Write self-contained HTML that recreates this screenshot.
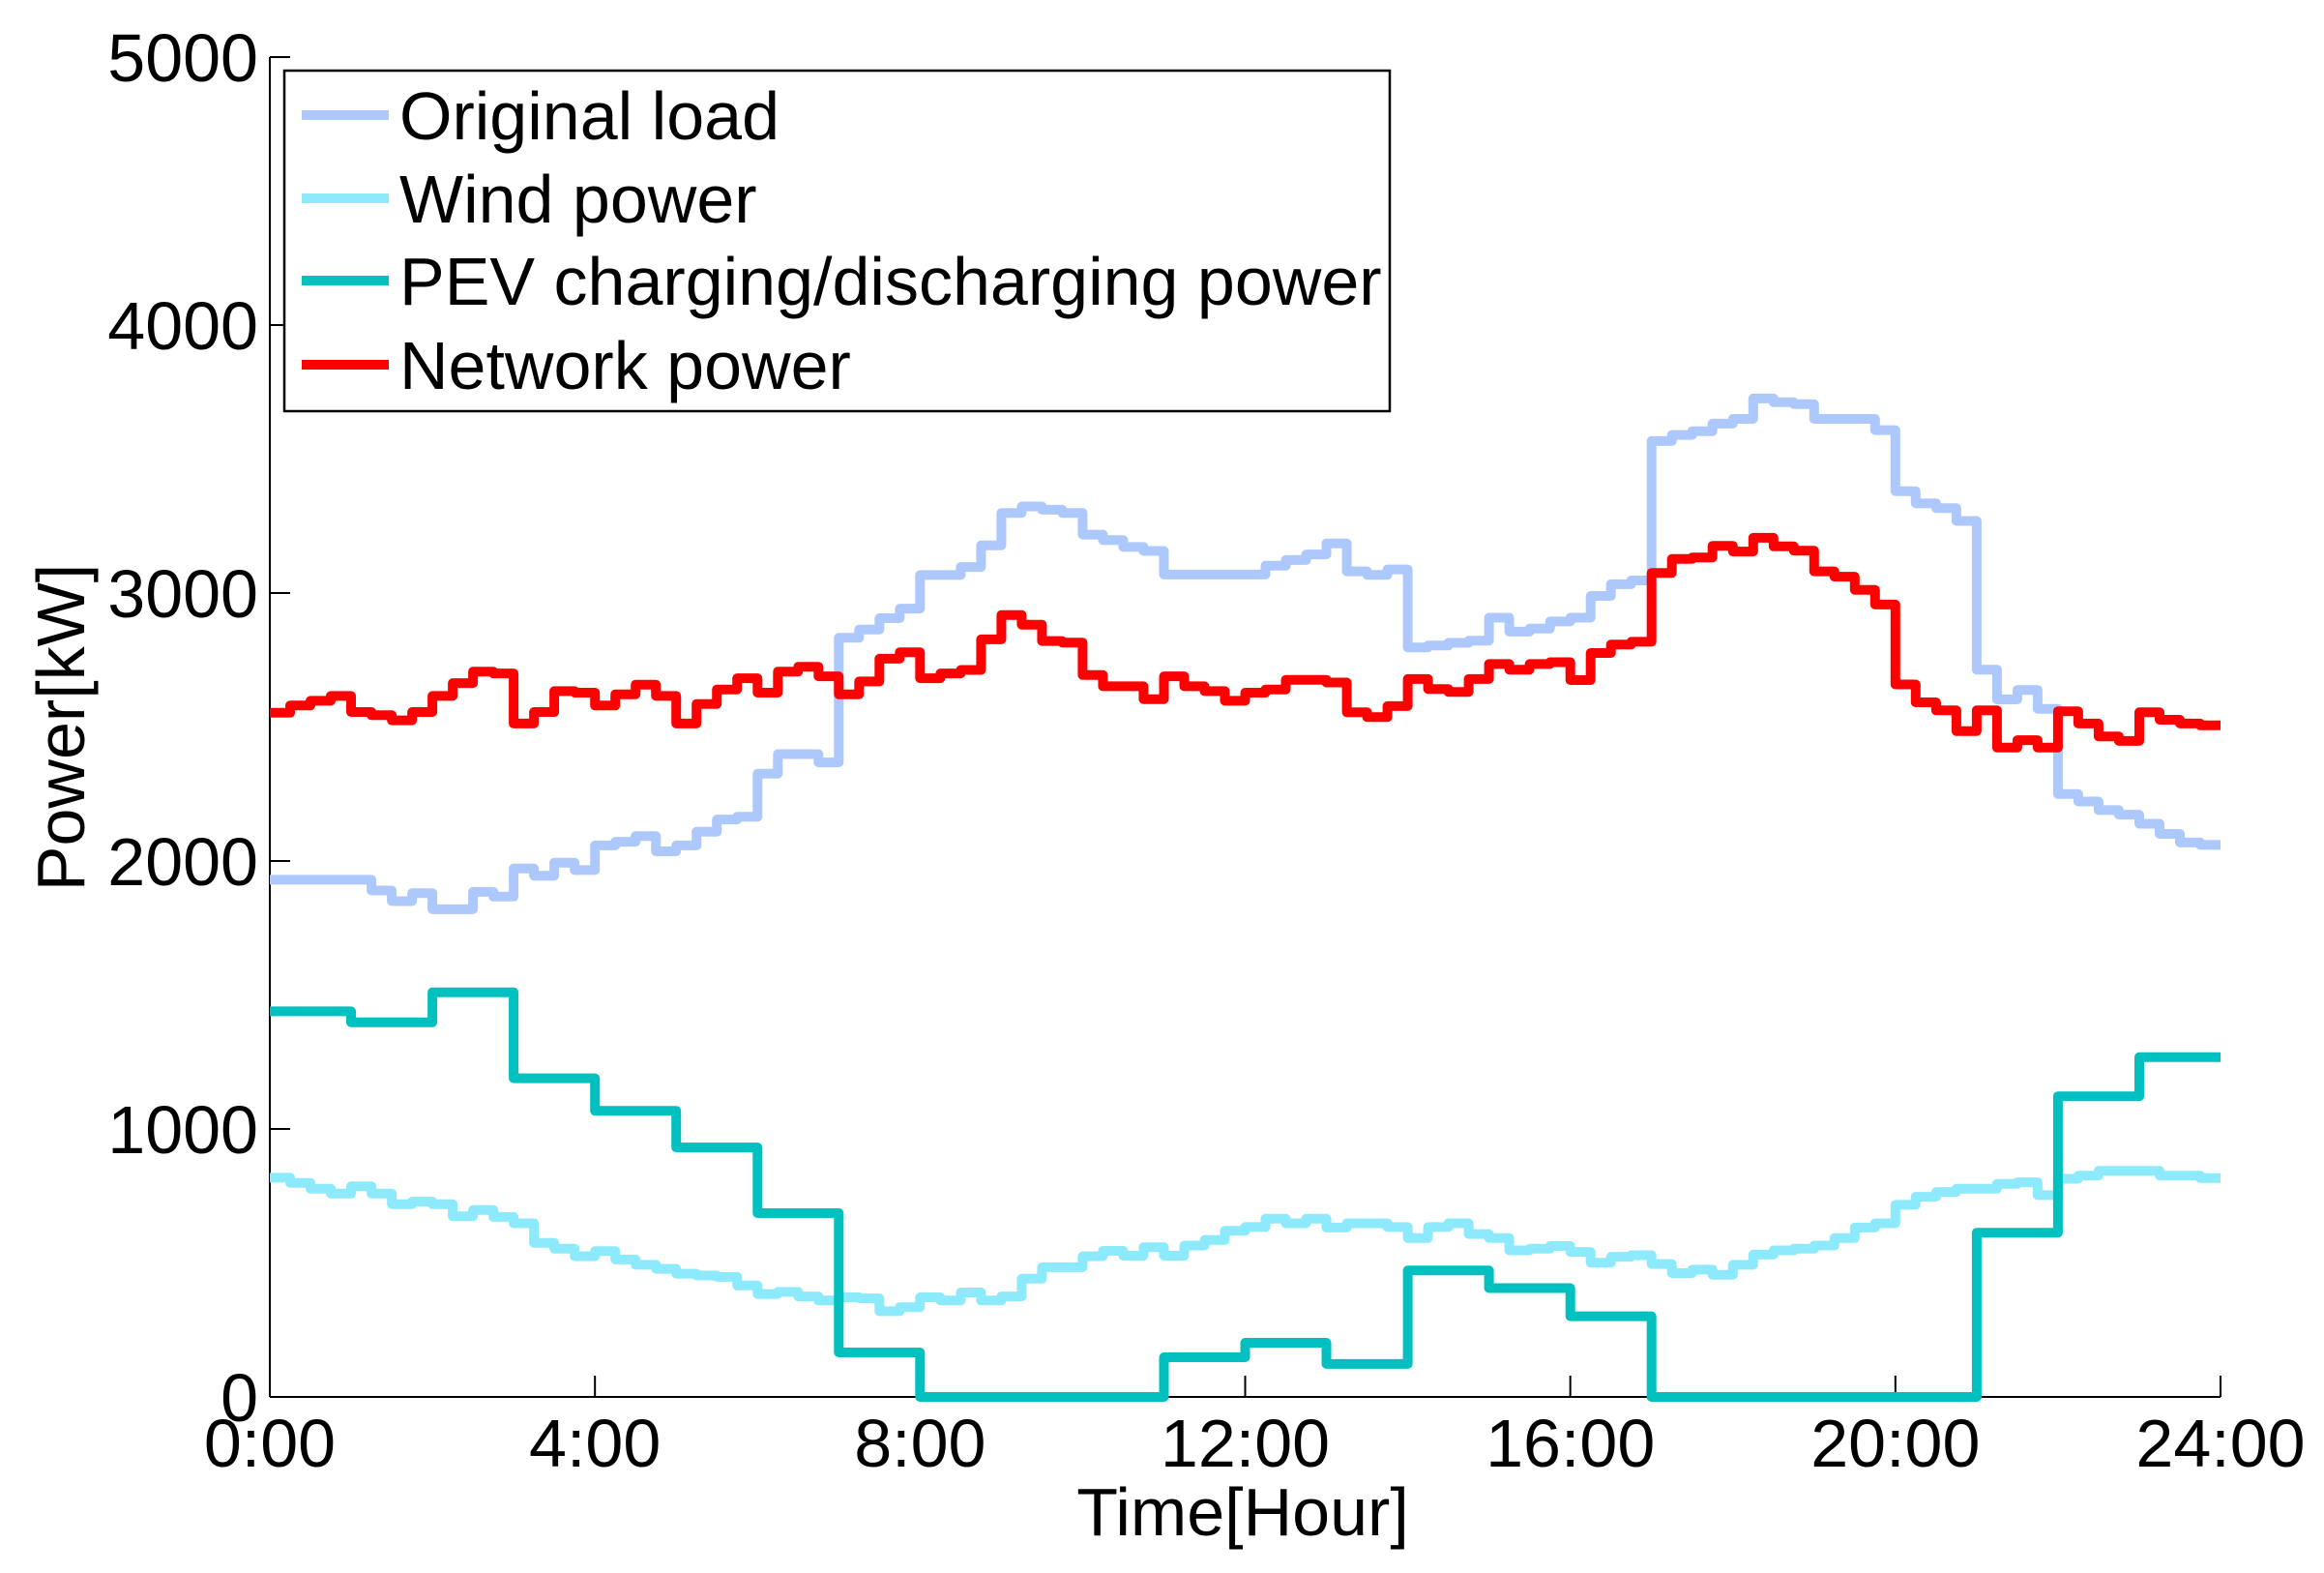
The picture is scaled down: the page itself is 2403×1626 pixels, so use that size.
<!DOCTYPE html>
<html><head><meta charset="utf-8"><style>
html,body{margin:0;padding:0;background:#fff;}
svg{display:block;font-family:"Liberation Sans",Arial,sans-serif;}
</style></head><body>
<svg id="chart" width="2403" height="1626" viewBox="0 0 2403 1626" xmlns="http://www.w3.org/2000/svg">
<g id="axes"></g>
<g id="series"></g>
<g id="legend"></g>
</svg>
<script>
const loadValues=[1930,1930,1930,1930,1930,1890,1850,1880,1820,1820,1885,1867,1972,1945,1994,1966,2058,2072,2093,2036,2058,2109,2155,2165,2326,2399,2399,2368,2833,2864,2906,2942,3067,3067,3097,3178,3299,3323,3311,3299,3218,3198,3172,3157,3069,3069,3069,3069,3069,3102,3123,3144,3185,3081,3068,3088,2797,2804,2814,2822,2908,2856,2867,2894,2908,2989,3033,3047,3567,3590,3604,3632,3650,3726,3712,3705,3650,3650,3650,3608,3380,3335,3317,3269,2714,2603,2638,2568,2250,2222,2190,2173,2139,2101,2069,2060];
const networkValues=[2553,2580,2598,2616,2556,2544,2525,2556,2616,2664,2707,2700,2513,2556,2634,2628,2580,2622,2658,2616,2513,2586,2640,2682,2628,2707,2725,2689,2622,2670,2755,2779,2682,2700,2713,2827,2918,2882,2821,2815,2694,2652,2652,2604,2689,2652,2634,2598,2628,2640,2676,2676,2666,2555,2537,2578,2679,2642,2631,2679,2735,2714,2735,2742,2675,2776,2808,2818,3075,3127,3133,3176,3155,3206,3174,3158,3081,3061,3012,2957,2659,2592,2562,2485,2562,2423,2451,2423,2559,2513,2465,2448,2555,2527,2513,2506];
const windValues=[818,799,777,759,786,759,719,729,719,674,698,672,648,575,553,525,544,513,493,478,460,453,448,416,384,392,375,360,372,368,320,335,372,360,390,360,375,441,484,484,525,545,527,559,527,565,586,620,634,665,648,665,632,648,648,634,593,634,648,608,593,547,553,563,541,501,523,529,496,462,475,456,493,531,547,553,565,593,632,648,717,747,765,777,777,795,801,753,814,826,844,844,844,826,826,817];
const pevValues=[1439,1398,1510,1189,1068,931,686,166,0,0,0,148,202,123,472,406,301,0,0,0,0,613,1122,1268];
const yTicks=[0,1000,2000,3000,4000,5000];
const xTicks=[0,4,8,12,16,20,24];
const xTickLabels=["0:00","4:00","8:00","12:00","16:00","20:00","24:00"];
const legendLabels=["Original load","Wind power","PEV charging/discharging power","Network power"];

const NS="http://www.w3.org/2000/svg";
const X0=279,X1=2296,Y0=1444,Y1=59;
function xs(h){return X0+(X1-X0)*h/24;}
function ys(v){return Y0-(Y0-Y1)*v/5000;}
function mk(tag,attrs,parent){const e=document.createElementNS(NS,tag);for(const k in attrs)e.setAttribute(k,attrs[k]);parent.appendChild(e);return e;}

const axes=document.getElementById('axes');
let a=mk('line',{x1:X0,y1:Y1,x2:X0,y2:Y0,stroke:'#000','stroke-width':2},axes);


a=mk('line',{x1:X0,y1:Y0,x2:X1,y2:Y0,stroke:'#000','stroke-width':2},axes);


yTicks.forEach(v=>{
  const t=mk('line',{x1:X0,y1:ys(v),x2:X0+21,y2:ys(v),stroke:'#000','stroke-width':2},axes);
  
  
  const l=mk('text',{x:267,y:ys(v)+25,'font-size':70,'text-anchor':'end',fill:'#000'},axes);
  l.textContent=String(v);
  
  
});
xTicks.forEach((h,i)=>{
  const t=mk('line',{x1:xs(h),y1:Y0,x2:xs(h),y2:Y0-22,stroke:'#000','stroke-width':2},axes);
  
  
  const l=mk('text',{x:xs(h),y:1516,'font-size':70,'text-anchor':'middle',fill:'#000'},axes);
  l.textContent=xTickLabels[i];
  
  
});
let tt=mk('text',{x:1285,y:1587,'font-size':70,'text-anchor':'middle',fill:'#000'},axes);
tt.textContent="Time[Hour]";


tt=mk('text',{x:0,y:0,'font-size':70,'text-anchor':'middle',fill:'#000',transform:'translate(87,752) rotate(-90)'},axes);
tt.textContent="Power[kW]";



function stairs(vals,stepH){
  let d='';
  vals.forEach((v,i)=>{
    const xa=xs(i*stepH),xb=xs((i+1)*stepH),y=ys(v);
    d+=(i===0?'M':'L')+xa.toFixed(1)+','+y.toFixed(1)+'L'+xb.toFixed(1)+','+y.toFixed(1);
  });
  return d;
}
const series=document.getElementById('series');
const defs=[
  {vals:windValues,step:0.25,color:'#8deafc',name:'wind-power-line'},
  {vals:pevValues,step:1,color:'#00c0c0',name:'pev-power-line'},
  {vals:loadValues,step:0.25,color:'#adc8fc',name:'original-load-line'},
  {vals:networkValues,step:0.25,color:'#ff0000',name:'network-power-line'}
];
defs.forEach(s=>{
  const p=mk('path',{d:stairs(s.vals,s.step),fill:'none',stroke:s.color,'stroke-width':10,'stroke-linejoin':'round'},series);
  
  
});

const legend=document.getElementById('legend');
const box=mk('rect',{x:294,y:73,width:1143,height:352,fill:'#fff',stroke:'#000','stroke-width':2.5},legend);


const legColors=['#adc8fc','#8deafc','#00c0c0','#ff0000'];
const legY=[119,205,290,377];
legendLabels.forEach((lab,i)=>{
  const ln=mk('line',{x1:312,y1:legY[i],x2:402,y2:legY[i],stroke:legColors[i],'stroke-width':10},legend);
  
  
  const tx=mk('text',{x:413,y:legY[i]+25,'font-size':70,fill:'#000'},legend);
  tx.textContent=lab;
  
  
});
</script>
</body></html>
